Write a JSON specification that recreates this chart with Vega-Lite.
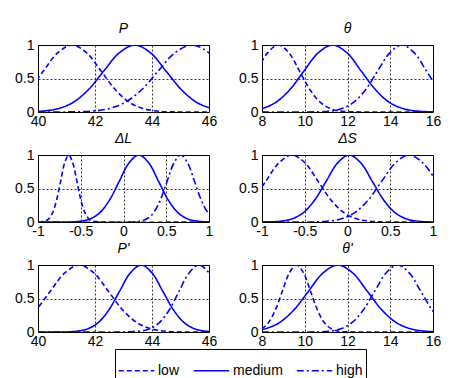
{
  "$schema": "https://vega.github.io/schema/vega-lite/v6.json",
  "background": "white",
  "padding": {"left": 14, "top": 21, "right": 0, "bottom": 0},
  "datasets": {
    "P": [
      {"s":"low","x":39.16,"y":0.135},{"s":"low","x":39.67,"y":0.325},{"s":"low","x":40.18,"y":0.607},{"s":"low","x":40.69,"y":0.882},{"s":"low","x":41.2,"y":1},{"s":"low","x":41.71,"y":0.882},{"s":"low","x":42.22,"y":0.607},{"s":"low","x":42.73,"y":0.325},{"s":"low","x":43.24,"y":0.135},{"s":"low","x":43.75,"y":0.044},{"s":"low","x":44.26,"y":0.011},{"s":"low","x":45,"y":0.001},{"s":"low","x":46,"y":0},
      {"s":"medium","x":40,"y":0.008},{"s":"medium","x":40.65,"y":0.044},{"s":"medium","x":41.2,"y":0.135},{"s":"medium","x":41.75,"y":0.325},{"s":"medium","x":42.3,"y":0.607},{"s":"medium","x":42.85,"y":0.882},{"s":"medium","x":43.4,"y":1},{"s":"medium","x":43.95,"y":0.882},{"s":"medium","x":44.5,"y":0.607},{"s":"medium","x":45.05,"y":0.325},{"s":"medium","x":45.6,"y":0.135},{"s":"medium","x":46.15,"y":0.044},
      {"s":"high","x":40,"y":0},{"s":"high","x":41,"y":0.001},{"s":"high","x":41.83,"y":0.011},{"s":"high","x":42.43,"y":0.044},{"s":"high","x":43.02,"y":0.135},{"s":"high","x":43.62,"y":0.325},{"s":"high","x":44.21,"y":0.607},{"s":"high","x":44.8,"y":0.882},{"s":"high","x":45.4,"y":1},{"s":"high","x":46,"y":0.882},{"s":"high","x":46.59,"y":0.607}
    ],
    "T": [
      {"s":"low","x":6.76,"y":0.135},{"s":"low","x":7.26,"y":0.325},{"s":"low","x":7.76,"y":0.607},{"s":"low","x":8.26,"y":0.882},{"s":"low","x":8.76,"y":1},{"s":"low","x":9.26,"y":0.882},{"s":"low","x":9.76,"y":0.607},{"s":"low","x":10.26,"y":0.325},{"s":"low","x":10.76,"y":0.135},{"s":"low","x":11.26,"y":0.044},{"s":"low","x":11.76,"y":0.011},{"s":"low","x":13,"y":0},{"s":"low","x":16,"y":0},
      {"s":"medium","x":7.25,"y":0.011},{"s":"medium","x":7.93,"y":0.044},{"s":"medium","x":8.6,"y":0.135},{"s":"medium","x":9.28,"y":0.325},{"s":"medium","x":9.95,"y":0.607},{"s":"medium","x":10.63,"y":0.882},{"s":"medium","x":11.3,"y":1},{"s":"medium","x":11.98,"y":0.882},{"s":"medium","x":12.65,"y":0.607},{"s":"medium","x":13.33,"y":0.325},{"s":"medium","x":14,"y":0.135},{"s":"medium","x":14.68,"y":0.044},{"s":"medium","x":15.35,"y":0.011},{"s":"medium","x":16,"y":0.002},
      {"s":"high","x":8,"y":0},{"s":"high","x":10,"y":0},{"s":"high","x":11.1,"y":0.011},{"s":"high","x":11.68,"y":0.044},{"s":"high","x":12.25,"y":0.135},{"s":"high","x":12.83,"y":0.325},{"s":"high","x":13.4,"y":0.607},{"s":"high","x":13.98,"y":0.882},{"s":"high","x":14.55,"y":1},{"s":"high","x":15.13,"y":0.882},{"s":"high","x":15.7,"y":0.607},{"s":"high","x":16.28,"y":0.325}
    ],
    "DL": [
      {"s":"low","x":-1,"y":0},{"s":"low","x":-0.925,"y":0.011},{"s":"low","x":-0.878,"y":0.044},{"s":"low","x":-0.83,"y":0.135},{"s":"low","x":-0.783,"y":0.325},{"s":"low","x":-0.735,"y":0.607},{"s":"low","x":-0.688,"y":0.882},{"s":"low","x":-0.64,"y":1},{"s":"low","x":-0.593,"y":0.882},{"s":"low","x":-0.545,"y":0.607},{"s":"low","x":-0.498,"y":0.325},{"s":"low","x":-0.45,"y":0.135},{"s":"low","x":-0.403,"y":0.044},{"s":"low","x":-0.355,"y":0.011},{"s":"low","x":-0.2,"y":0},{"s":"low","x":1,"y":0},
      {"s":"medium","x":-1,"y":0},{"s":"medium","x":-0.6,"y":0.001},{"s":"medium","x":-0.51,"y":0.011},{"s":"medium","x":-0.395,"y":0.044},{"s":"medium","x":-0.28,"y":0.135},{"s":"medium","x":-0.165,"y":0.325},{"s":"medium","x":-0.05,"y":0.607},{"s":"medium","x":0.065,"y":0.882},{"s":"medium","x":0.18,"y":1},{"s":"medium","x":0.295,"y":0.882},{"s":"medium","x":0.41,"y":0.607},{"s":"medium","x":0.525,"y":0.325},{"s":"medium","x":0.64,"y":0.135},{"s":"medium","x":0.755,"y":0.044},{"s":"medium","x":0.87,"y":0.011},{"s":"medium","x":1,"y":0.001},
      {"s":"high","x":-1,"y":0},{"s":"high","x":0.1,"y":0},{"s":"high","x":0.19,"y":0.011},{"s":"high","x":0.27,"y":0.044},{"s":"high","x":0.35,"y":0.135},{"s":"high","x":0.43,"y":0.325},{"s":"high","x":0.51,"y":0.607},{"s":"high","x":0.59,"y":0.882},{"s":"high","x":0.67,"y":1},{"s":"high","x":0.75,"y":0.882},{"s":"high","x":0.83,"y":0.607},{"s":"high","x":0.91,"y":0.325},{"s":"high","x":0.99,"y":0.135},{"s":"high","x":1.07,"y":0.044}
    ],
    "DS": [
      {"s":"low","x":-1.109,"y":0.325},{"s":"low","x":-0.956,"y":0.607},{"s":"low","x":-0.803,"y":0.882},{"s":"low","x":-0.65,"y":1},{"s":"low","x":-0.497,"y":0.882},{"s":"low","x":-0.344,"y":0.607},{"s":"low","x":-0.191,"y":0.325},{"s":"low","x":-0.038,"y":0.135},{"s":"low","x":0.115,"y":0.044},{"s":"low","x":0.268,"y":0.011},{"s":"low","x":0.5,"y":0},{"s":"low","x":1,"y":0},
      {"s":"medium","x":-1,"y":0},{"s":"medium","x":-0.79,"y":0.011},{"s":"medium","x":-0.655,"y":0.044},{"s":"medium","x":-0.52,"y":0.135},{"s":"medium","x":-0.385,"y":0.325},{"s":"medium","x":-0.25,"y":0.607},{"s":"medium","x":-0.115,"y":0.882},{"s":"medium","x":0.02,"y":1},{"s":"medium","x":0.155,"y":0.882},{"s":"medium","x":0.29,"y":0.607},{"s":"medium","x":0.425,"y":0.325},{"s":"medium","x":0.56,"y":0.135},{"s":"medium","x":0.695,"y":0.044},{"s":"medium","x":0.83,"y":0.011},{"s":"medium","x":1,"y":0},
      {"s":"high","x":-1,"y":0},{"s":"high","x":-0.4,"y":0.001},{"s":"high","x":-0.24,"y":0.011},{"s":"high","x":-0.08,"y":0.044},{"s":"high","x":0.08,"y":0.135},{"s":"high","x":0.24,"y":0.325},{"s":"high","x":0.4,"y":0.607},{"s":"high","x":0.56,"y":0.882},{"s":"high","x":0.72,"y":1},{"s":"high","x":0.88,"y":0.882},{"s":"high","x":1.04,"y":0.607}
    ],
    "P2": [
      {"s":"low","x":39.41,"y":0.135},{"s":"low","x":39.92,"y":0.325},{"s":"low","x":40.43,"y":0.607},{"s":"low","x":40.94,"y":0.882},{"s":"low","x":41.45,"y":1},{"s":"low","x":41.96,"y":0.882},{"s":"low","x":42.47,"y":0.607},{"s":"low","x":42.98,"y":0.325},{"s":"low","x":43.49,"y":0.135},{"s":"low","x":44,"y":0.044},{"s":"low","x":44.51,"y":0.011},{"s":"low","x":45.2,"y":0},{"s":"low","x":46,"y":0},
      {"s":"medium","x":40,"y":0},{"s":"medium","x":41,"y":0.001},{"s":"medium","x":41.34,"y":0.011},{"s":"medium","x":41.72,"y":0.044},{"s":"medium","x":42.1,"y":0.135},{"s":"medium","x":42.48,"y":0.325},{"s":"medium","x":42.86,"y":0.607},{"s":"medium","x":43.24,"y":0.882},{"s":"medium","x":43.62,"y":1},{"s":"medium","x":44,"y":0.882},{"s":"medium","x":44.38,"y":0.607},{"s":"medium","x":44.76,"y":0.325},{"s":"medium","x":45.14,"y":0.135},{"s":"medium","x":45.52,"y":0.044},{"s":"medium","x":45.9,"y":0.011},{"s":"medium","x":46,"y":0.008},
      {"s":"high","x":40,"y":0},{"s":"high","x":43,"y":0.001},{"s":"high","x":43.55,"y":0.011},{"s":"high","x":43.9,"y":0.044},{"s":"high","x":44.25,"y":0.135},{"s":"high","x":44.6,"y":0.325},{"s":"high","x":44.95,"y":0.607},{"s":"high","x":45.3,"y":0.882},{"s":"high","x":45.65,"y":1},{"s":"high","x":46,"y":0.882},{"s":"high","x":46.35,"y":0.607}
    ],
    "T2": [
      {"s":"low","x":7.63,"y":0.011},{"s":"low","x":7.96,"y":0.044},{"s":"low","x":8.29,"y":0.135},{"s":"low","x":8.62,"y":0.325},{"s":"low","x":8.95,"y":0.607},{"s":"low","x":9.28,"y":0.882},{"s":"low","x":9.61,"y":1},{"s":"low","x":9.94,"y":0.882},{"s":"low","x":10.27,"y":0.607},{"s":"low","x":10.6,"y":0.325},{"s":"low","x":10.93,"y":0.135},{"s":"low","x":11.26,"y":0.044},{"s":"low","x":11.59,"y":0.011},{"s":"low","x":12.5,"y":0},{"s":"low","x":16,"y":0},
      {"s":"medium","x":7.41,"y":0.011},{"s":"medium","x":8.1,"y":0.044},{"s":"medium","x":8.79,"y":0.135},{"s":"medium","x":9.48,"y":0.325},{"s":"medium","x":10.17,"y":0.607},{"s":"medium","x":10.86,"y":0.882},{"s":"medium","x":11.55,"y":1},{"s":"medium","x":12.24,"y":0.882},{"s":"medium","x":12.93,"y":0.607},{"s":"medium","x":13.62,"y":0.325},{"s":"medium","x":14.31,"y":0.135},{"s":"medium","x":15,"y":0.044},{"s":"medium","x":15.69,"y":0.011},{"s":"medium","x":16.38,"y":0.002},
      {"s":"high","x":8,"y":0},{"s":"high","x":10.3,"y":0.001},{"s":"high","x":11.11,"y":0.011},{"s":"high","x":11.65,"y":0.044},{"s":"high","x":12.19,"y":0.135},{"s":"high","x":12.73,"y":0.325},{"s":"high","x":13.27,"y":0.607},{"s":"high","x":13.81,"y":0.882},{"s":"high","x":14.35,"y":1},{"s":"high","x":14.89,"y":0.882},{"s":"high","x":15.43,"y":0.607},{"s":"high","x":15.97,"y":0.325},{"s":"high","x":16.51,"y":0.135}
    ]
  },
  "columns": 2,
  "bounds": "flush",
  "spacing": {"row": 43, "column": 53},
  "resolve": {"scale": {"x": "independent", "strokeDash": "shared"}},
  "concat": [
    {
      "title": "P",
      "width": 171, "height": 67,
      "data": {"name": "P"},
      "mark": {"type": "line", "clip": true, "interpolate": "catmull-rom", "color": "#0000ff", "strokeWidth": 1.6},
      "encoding": {
        "x": {"field": "x", "type": "quantitative", "title": null, "scale": {"domain": [40, 46], "nice": false, "zero": false}, "axis": {"values": [40, 42, 44, 46]}},
        "y": {"field": "y", "type": "quantitative", "title": null, "scale": {"domain": [0, 1], "nice": false}, "axis": {"values": [0, 0.5, 1]}},
        "strokeDash": {"field": "s", "type": "nominal", "title": null, "scale": {"domain": ["low", "medium", "high"], "range": [[5, 3], [1, 0], [7, 3, 2, 3]]}}
      }
    },
    {
      "title": "θ",
      "width": 171, "height": 67,
      "data": {"name": "T"},
      "mark": {"type": "line", "clip": true, "interpolate": "catmull-rom", "color": "#0000ff", "strokeWidth": 1.6},
      "encoding": {
        "x": {"field": "x", "type": "quantitative", "title": null, "scale": {"domain": [8, 16], "nice": false, "zero": false}, "axis": {"values": [8, 10, 12, 14, 16]}},
        "y": {"field": "y", "type": "quantitative", "title": null, "scale": {"domain": [0, 1], "nice": false}, "axis": {"values": [0, 0.5, 1]}},
        "strokeDash": {"field": "s", "type": "nominal", "title": null, "scale": {"domain": ["low", "medium", "high"], "range": [[5, 3], [1, 0], [7, 3, 2, 3]]}}
      }
    },
    {
      "title": "ΔL",
      "width": 171, "height": 67,
      "data": {"name": "DL"},
      "mark": {"type": "line", "clip": true, "interpolate": "catmull-rom", "color": "#0000ff", "strokeWidth": 1.6},
      "encoding": {
        "x": {"field": "x", "type": "quantitative", "title": null, "scale": {"domain": [-1, 1], "nice": false, "zero": false}, "axis": {"values": [-1, -0.5, 0, 0.5, 1]}},
        "y": {"field": "y", "type": "quantitative", "title": null, "scale": {"domain": [0, 1], "nice": false}, "axis": {"values": [0, 0.5, 1]}},
        "strokeDash": {"field": "s", "type": "nominal", "title": null, "scale": {"domain": ["low", "medium", "high"], "range": [[5, 3], [1, 0], [7, 3, 2, 3]]}}
      }
    },
    {
      "title": "ΔS",
      "width": 171, "height": 67,
      "data": {"name": "DS"},
      "mark": {"type": "line", "clip": true, "interpolate": "catmull-rom", "color": "#0000ff", "strokeWidth": 1.6},
      "encoding": {
        "x": {"field": "x", "type": "quantitative", "title": null, "scale": {"domain": [-1, 1], "nice": false, "zero": false}, "axis": {"values": [-1, -0.5, 0, 0.5, 1]}},
        "y": {"field": "y", "type": "quantitative", "title": null, "scale": {"domain": [0, 1], "nice": false}, "axis": {"values": [0, 0.5, 1]}},
        "strokeDash": {"field": "s", "type": "nominal", "title": null, "scale": {"domain": ["low", "medium", "high"], "range": [[5, 3], [1, 0], [7, 3, 2, 3]]}}
      }
    },
    {
      "title": "P'",
      "width": 171, "height": 67,
      "data": {"name": "P2"},
      "mark": {"type": "line", "clip": true, "interpolate": "catmull-rom", "color": "#0000ff", "strokeWidth": 1.6},
      "encoding": {
        "x": {"field": "x", "type": "quantitative", "title": null, "scale": {"domain": [40, 46], "nice": false, "zero": false}, "axis": {"values": [40, 42, 44, 46]}},
        "y": {"field": "y", "type": "quantitative", "title": null, "scale": {"domain": [0, 1], "nice": false}, "axis": {"values": [0, 0.5, 1]}},
        "strokeDash": {"field": "s", "type": "nominal", "title": null, "scale": {"domain": ["low", "medium", "high"], "range": [[5, 3], [1, 0], [7, 3, 2, 3]]}}
      }
    },
    {
      "title": "θ'",
      "width": 171, "height": 67,
      "data": {"name": "T2"},
      "mark": {"type": "line", "clip": true, "interpolate": "catmull-rom", "color": "#0000ff", "strokeWidth": 1.6},
      "encoding": {
        "x": {"field": "x", "type": "quantitative", "title": null, "scale": {"domain": [8, 16], "nice": false, "zero": false}, "axis": {"values": [8, 10, 12, 14, 16]}},
        "y": {"field": "y", "type": "quantitative", "title": null, "scale": {"domain": [0, 1], "nice": false}, "axis": {"values": [0, 0.5, 1]}},
        "strokeDash": {"field": "s", "type": "nominal", "title": null, "scale": {"domain": ["low", "medium", "high"], "range": [[5, 3], [1, 0], [7, 3, 2, 3]]}}
      }
    }
  ],
  "config": {
    "font": "Liberation Sans",
    "view": {"stroke": "black", "strokeWidth": 1},
    "axis": {
      "labelFont": "Liberation Sans", "labelFontSize": 14, "labelColor": "black",
      "grid": true, "gridColor": "black", "gridDash": [2, 2], "gridOpacity": 1, "gridWidth": 0.8,
      "ticks": false, "domain": false, "labelFlush": false, "labelOverlap": false, "labelPadding": 2,
      "labelExpr": "'' + datum.value"
    },
    "axisY": {"labelPadding": 4},
    "title": {"font": "Liberation Sans", "fontSize": 14, "fontStyle": "italic", "fontWeight": "normal", "color": "black", "offset": 2, "anchor": "middle"},
    "legend": {
      "orient": "none", "legendX": 77, "legendY": 304, "direction": "horizontal",
      "symbolType": "stroke", "symbolSize": 1250, "symbolStrokeWidth": 1.5, "symbolStrokeColor": "#0000ff",
      "labelFont": "Liberation Sans", "labelFontSize": 14, "labelColor": "black", "labelOffset": 3,
      "columnPadding": 10, "padding": 3, "strokeColor": "black", "fillColor": "white", "cornerRadius": 0
    }
  }
}
